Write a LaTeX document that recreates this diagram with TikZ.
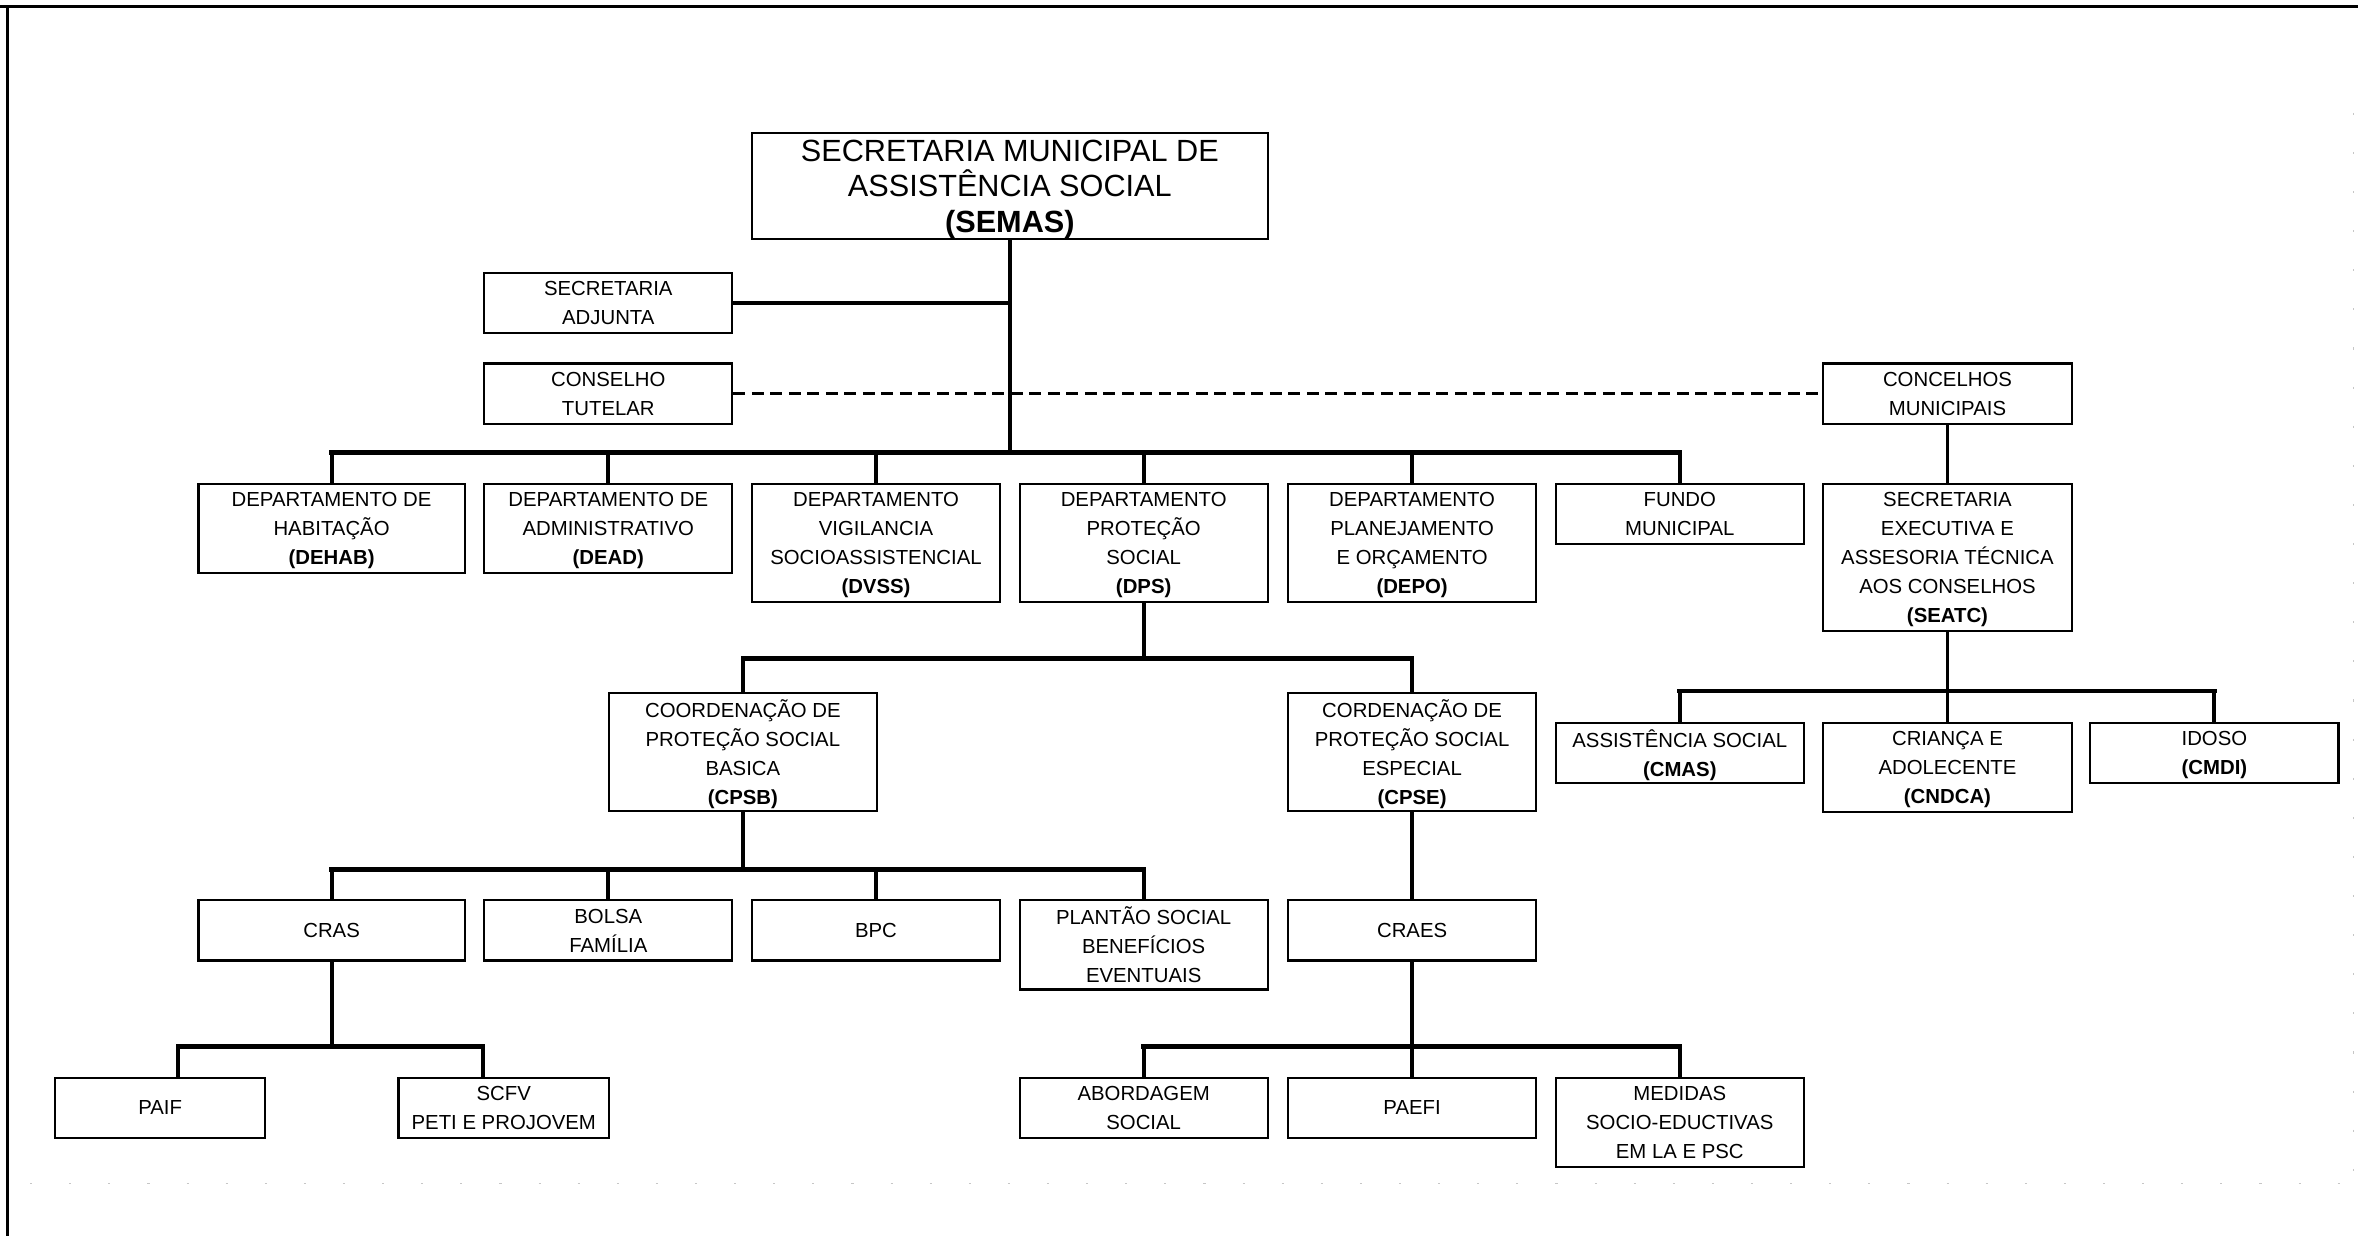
\documentclass[tikz,border=0pt]{standalone}
\usepackage{fontspec}
\setmainfont{Liberation Sans}

\begin{document}
\begin{tikzpicture}[font=\fontsize{7.7}{11}\selectfont,
    caixa/.style={draw, line width=0.8pt, align=center, inner sep=0pt, text depth=0pt, anchor=north, minimum width=3.3cm},
    linhas/.style={minimum height={#1*0.385cm+0.03cm}},
    ligacao/.style={line width=1.5pt},
    barra/.style={line width=1.75pt, line cap=rect},
    tracejado/.style={line width=1.2pt, dash pattern=on 4.5pt off 2.5pt}]

\useasboundingbox (0,0) rectangle (31.36,-16.44);
\draw[line width=1.1pt] (0,-0.09) -- (31.36,-0.09);
\draw[line width=1.1pt] (0.1,-0.09) -- (0.1,-16.44);
\draw[gray!45, line width=0.5pt, dash pattern=on 0.8pt off 14pt] (0.4,-15.74) -- (31.3,-15.74);
\draw[gray!45, line width=0.5pt, dash pattern=on 0.8pt off 14pt] (31.3,-1.5) -- (31.3,-15.74);

\node[caixa, minimum width=6.86cm, minimum height=1.4cm, font=\fontsize{11.6}{13.4}\selectfont] (semas)
    at (13.43,-1.76) {SECRETARIA MUNICIPAL DE\\ ASSISTÊNCIA SOCIAL\\ \textbf{(SEMAS)}};

\node[caixa, linhas=2] (adjunta)
    at (8.09,-3.62) {SECRETARIA\\ ADJUNTA};
\node[caixa, linhas=2] (tutelar)
    at (8.09,-4.82) {CONSELHO\\ TUTELAR};
\node[caixa, linhas=2] (conselhos)
    at (25.90,-4.82) {CONCELHOS\\ MUNICIPAIS};

\node[caixa, linhas=3, minimum width=3.54cm] (dehab)
    at (4.41,-6.42) {DEPARTAMENTO DE\\ HABITAÇÃO\\ \textbf{(DEHAB)}};
\node[caixa, linhas=3] (dead)
    at (8.09,-6.42) {DEPARTAMENTO DE\\ ADMINISTRATIVO\\ \textbf{(DEAD)}};
\node[caixa, linhas=4] (dvss)
    at (11.65,-6.42) {DEPARTAMENTO\\ VIGILANCIA\\ SOCIOASSISTENCIAL\\ \textbf{(DVSS)}};
\node[caixa, linhas=4] (dps)
    at (15.21,-6.42) {DEPARTAMENTO\\ PROTEÇÃO\\ SOCIAL\\ \textbf{(DPS)}};
\node[caixa, linhas=4] (depo)
    at (18.78,-6.42) {DEPARTAMENTO\\ PLANEJAMENTO\\ E ORÇAMENTO\\ \textbf{(DEPO)}};
\node[caixa, linhas=2] (fundo)
    at (22.34,-6.42) {FUNDO\\ MUNICIPAL};
\node[caixa, linhas=5] (seatc)
    at (25.90,-6.42) {SECRETARIA\\ EXECUTIVA E\\ ASSESORIA TÉCNICA\\ AOS CONSELHOS\\ \textbf{(SEATC)}};

\node[caixa, linhas=4, minimum width=3.56cm] (cpsb)
    at (9.88,-9.20) {COORDENAÇÃO DE\\ PROTEÇÃO SOCIAL\\ BASICA\\ \textbf{(CPSB)}};
\node[caixa, linhas=4] (cpse)
    at (18.78,-9.20) {CORDENAÇÃO DE\\ PROTEÇÃO SOCIAL\\ ESPECIAL\\ \textbf{(CPSE)}};

\node[caixa, linhas=2] (cmas)
    at (22.34,-9.60) {ASSISTÊNCIA SOCIAL\\ \textbf{(CMAS)}};
\node[caixa, linhas=3] (cndca)
    at (25.90,-9.60) {CRIANÇA E\\ ADOLECENTE\\ \textbf{(CNDCA)}};
\node[caixa, linhas=2] (cmdi)
    at (29.45,-9.60) {IDOSO\\ \textbf{(CMDI)}};

\node[caixa, linhas=2, minimum width=3.54cm] (cras)
    at (4.41,-11.96) {CRAS};
\node[caixa, linhas=2] (bolsa)
    at (8.09,-11.96) {BOLSA\\ FAMÍLIA};
\node[caixa, linhas=2] (bpc)
    at (11.65,-11.96) {BPC};
\node[caixa, linhas=3] (plantao)
    at (15.21,-11.96) {PLANTÃO SOCIAL\\ BENEFÍCIOS\\ EVENTUAIS};
\node[caixa, linhas=2] (craes)
    at (18.78,-11.96) {CRAES};

\node[caixa, linhas=2, minimum width=2.8cm] (paif)
    at (2.13,-14.32) {PAIF};
\node[caixa, linhas=2, minimum width=2.8cm] (scfv)
    at (6.70,-14.32) {SCFV\\ PETI E PROJOVEM};
\node[caixa, linhas=2] (abordagem)
    at (15.21,-14.32) {ABORDAGEM\\ SOCIAL};
\node[caixa, linhas=2] (paefi)
    at (18.78,-14.32) {PAEFI};
\node[caixa, linhas=3] (medidas)
    at (22.34,-14.32) {MEDIDAS\\ SOCIO-EDUCTIVAS\\ EM LA E PSC};

\coordinate (b1) at (0,-6.02);
\coordinate (b2) at (0,-8.76);
\coordinate (b3) at (0,-9.19);
\coordinate (b4) at (0,-11.56);
\coordinate (b5) at (0,-13.92);

\draw[ligacao] (semas.south) -- (semas.south |- b1);
\draw[ligacao] (adjunta.east) -- (adjunta.east -| semas.south);
\draw[tracejado] (tutelar.east) -- (conselhos.west);
\draw[barra] (dehab.north |- b1) -- (fundo.north |- b1);
\draw[ligacao] (dehab.north) -- (dehab.north |- b1);
\draw[ligacao] (dead.north) -- (dead.north |- b1);
\draw[ligacao] (dvss.north) -- (dvss.north |- b1);
\draw[ligacao] (dps.north) -- (dps.north |- b1);
\draw[ligacao] (depo.north) -- (depo.north |- b1);
\draw[ligacao] (fundo.north) -- (fundo.north |- b1);
\draw[ligacao] (conselhos.south) -- (seatc.north);

\draw[ligacao] (dps.south) -- (dps.south |- b2);
\draw[barra] (cpsb.north |- b2) -- (cpse.north |- b2);
\draw[ligacao] (cpsb.north) -- (cpsb.north |- b2);
\draw[ligacao] (cpse.north) -- (cpse.north |- b2);

\draw[ligacao] (seatc.south) -- (cndca.north);
\draw[barra] (cmas.north |- b3) -- (cmdi.north |- b3);
\draw[ligacao] (cmas.north) -- (cmas.north |- b3);
\draw[ligacao] (cmdi.north) -- (cmdi.north |- b3);

\draw[ligacao] (cpsb.south) -- (cpsb.south |- b4);
\draw[barra] (cras.north |- b4) -- (plantao.north |- b4);
\draw[ligacao] (cras.north) -- (cras.north |- b4);
\draw[ligacao] (bolsa.north) -- (bolsa.north |- b4);
\draw[ligacao] (bpc.north) -- (bpc.north |- b4);
\draw[ligacao] (plantao.north) -- (plantao.north |- b4);
\draw[ligacao] (cpse.south) -- (craes.north);

\draw[ligacao] (cras.south) -- (cras.south |- b5);
\draw[barra] ([xshift=0.24cm]paif.north |- b5) -- ([xshift=-0.28cm]scfv.north |- b5);
\draw[ligacao] ([xshift=0.24cm]paif.north) -- ([xshift=0.24cm]paif.north |- b5);
\draw[ligacao] ([xshift=-0.28cm]scfv.north) -- ([xshift=-0.28cm]scfv.north |- b5);

\draw[ligacao] (craes.south) -- (paefi.north);
\draw[barra] (abordagem.north |- b5) -- (medidas.north |- b5);
\draw[ligacao] (abordagem.north) -- (abordagem.north |- b5);
\draw[ligacao] (medidas.north) -- (medidas.north |- b5);

\end{tikzpicture}
\end{document}
